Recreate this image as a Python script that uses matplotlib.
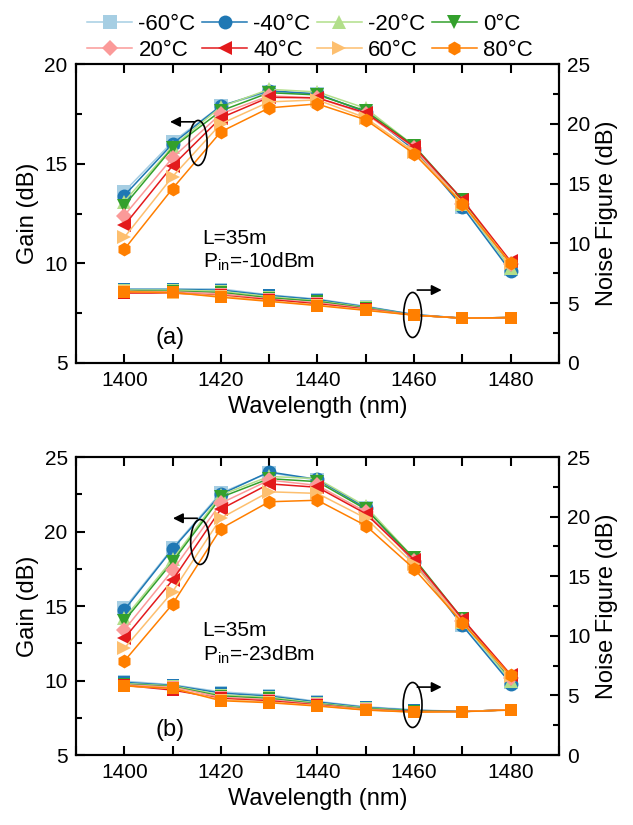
import matplotlib
matplotlib.use("Agg")
import matplotlib.pyplot as plt
from matplotlib.patches import Ellipse
from matplotlib.ticker import MultipleLocator
import numpy as np

plt.rcParams['font.family'] = ['Liberation Sans', 'DejaVu Sans']
plt.rcParams['mathtext.default'] = 'regular'

# data
wavelength = [1400, 1410, 1420, 1430, 1440, 1450, 1460, 1470, 1480]
temps = ["-60°C", "-40°C", "-20°C", "0°C", "20°C", "40°C", "60°C", "80°C"]
colors = ["#a6cee3", "#1f78b4", "#b2df8a", "#33a02c", "#fb9a99", "#e31a1c", "#fdbf6f", "#ff7f00"]
markers = ["s", "o", "^", "v", "D", "<", ">", "h"]

# panel (a): Pin = -10 dBm
gain_a = [
    [13.6, 16.1, 17.9, 18.6, 18.5, 17.6, 15.7, 12.85, 9.7],
    [13.4, 16.0, 17.9, 18.66, 18.5, 17.6, 15.7, 12.85, 9.6],
    [13.1, 15.85, 17.85, 18.73, 18.6, 17.78, 15.9, 13.0, 9.75],
    [12.9, 15.8, 17.65, 18.56, 18.45, 17.65, 15.9, 13.2, 9.9],
    [12.4, 15.3, 17.5, 18.4, 18.3, 17.5, 15.8, 13.0, 9.95],
    [11.9, 14.9, 17.3, 18.33, 18.3, 17.55, 15.85, 13.2, 10.1],
    [11.3, 14.35, 17.0, 18.1, 18.2, 17.3, 15.6, 13.05, 10.0],
    [10.7, 13.75, 16.6, 17.8, 18.0, 17.2, 15.5, 13.0, 10.0],
]
nf_a = [
    [6.2, 6.2, 6.2, 5.7, 5.35, 4.75, 4.05, 3.75, 3.8],
    [6.15, 6.15, 6.1, 5.65, 5.3, 4.7, 4.05, 3.75, 3.8],
    [6.1, 6.1, 6.0, 5.55, 5.2, 4.65, 4.0, 3.75, 3.8],
    [6.05, 6.0, 5.9, 5.45, 5.15, 4.6, 4.0, 3.75, 3.8],
    [6.0, 5.95, 5.8, 5.35, 5.05, 4.55, 4.0, 3.75, 3.8],
    [5.85, 5.85, 5.65, 5.3, 4.95, 4.5, 4.0, 3.75, 3.8],
    [6.0, 5.85, 5.6, 5.2, 4.85, 4.45, 4.0, 3.75, 3.8],
    [5.95, 5.9, 5.5, 5.15, 4.8, 4.4, 4.0, 3.75, 3.8],
]

# panel (b): Pin = -23 dBm
gain_b = [
    [14.85, 18.9, 22.6, 23.95, 23.45, 21.6, 17.95, 13.7, 9.9],
    [14.73, 18.83, 22.5, 24.0, 23.5, 21.6, 17.95, 13.7, 9.8],
    [14.17, 18.13, 22.45, 23.7, 23.55, 21.7, 18.2, 13.9, 10.0],
    [14.0, 17.97, 22.3, 23.55, 23.35, 21.5, 18.2, 14.15, 10.1],
    [13.4, 17.4, 21.9, 23.45, 23.1, 21.33, 18.0, 14.0, 10.2],
    [12.83, 16.74, 21.5, 23.2, 22.97, 21.2, 18.1, 14.15, 10.4],
    [12.16, 15.96, 20.9, 22.67, 22.56, 20.9, 17.8, 13.9, 10.3],
    [11.3, 15.13, 20.2, 22.0, 22.1, 20.4, 17.5, 13.88, 10.35],
]
nf_b = [
    [6.2, 5.9, 5.3, 5.05, 4.5, 4.05, 3.8, 3.65, 3.8],
    [6.1, 5.85, 5.2, 4.95, 4.45, 4.0, 3.75, 3.65, 3.8],
    [6.0, 5.8, 5.05, 4.85, 4.35, 3.95, 3.7, 3.65, 3.8],
    [5.95, 5.75, 4.95, 4.75, 4.3, 3.9, 3.7, 3.65, 3.8],
    [5.9, 5.7, 4.85, 4.65, 4.25, 3.85, 3.65, 3.65, 3.8],
    [5.85, 5.45, 4.75, 4.55, 4.2, 3.8, 3.65, 3.65, 3.8],
    [5.8, 5.6, 4.65, 4.45, 4.15, 3.8, 3.6, 3.65, 3.8],
    [5.8, 5.6, 4.56, 4.39, 4.11, 3.77, 3.6, 3.64, 3.77],
]

panels = [
    {"gain": gain_a, "nf": nf_a, "ylim": (5, 20), "pin": "-10dBm", "tag": "(a)",
     "rect": [0.120, 0.560, 0.763, 0.3624],
     "ell_gain": (1415.3, 16.04, 3.7, 2.26), "arr_gain": (1415.1, 1408.9, 17.1),
     "ell_nf": (1459.7, 7.41, 3.7, 2.26), "arr_nf": (1460.1, 1466.3, 8.66),
     "txt_y": (11.27, 10.07), "tag_y": 6.25},
    {"gain": gain_b, "nf": nf_b, "ylim": (5, 25), "pin": "-23dBm", "tag": "(b)",
     "rect": [0.120, 0.0848, 0.763, 0.3612],
     "ell_gain": (1415.7, 19.3, 3.9, 3.02), "arr_gain": (1415.7, 1409.5, 20.89),
     "ell_nf": (1459.7, 8.36, 3.9, 3.02), "arr_nf": (1460.1, 1466.3, 9.56),
     "txt_y": (13.39, 11.71), "tag_y": 6.68},
]

fig = plt.figure(figsize=(6.33, 8.25), dpi=100)

handles = []
for P in panels:
    ax = fig.add_axes(P["rect"])
    ax2 = ax.twinx()
    ax.set_zorder(ax2.get_zorder() + 1)
    ax.patch.set_visible(False)

    for i in range(len(temps)):
        ax2.plot(wavelength, P["nf"][i], marker="s", color=colors[i], markersize=9,
                 linewidth=1.1, markeredgewidth=0)
    for i in range(len(temps)):
        h, = ax.plot(wavelength, P["gain"][i], marker=markers[i], color=colors[i],
                     markersize=10 if markers[i] != "D" else 8.5, linewidth=1.1,
                     markeredgewidth=0, label=temps[i])
        if P["tag"] == "(a)":
            handles.append(h)

    ax.set_xlim(1390, 1490)
    ax.set_ylim(*P["ylim"])
    ax2.set_ylim(0, 25)
    ax.xaxis.set_major_locator(MultipleLocator(20))
    ax.xaxis.set_minor_locator(MultipleLocator(10))
    ax.yaxis.set_major_locator(MultipleLocator(5))
    ax.yaxis.set_minor_locator(MultipleLocator(2.5))
    ax2.yaxis.set_major_locator(MultipleLocator(5))
    ax2.yaxis.set_minor_locator(MultipleLocator(2.5))
    ax.tick_params(axis="x", which="both", direction="in", top=True, length=6.5, width=1.5)
    ax.tick_params(axis="x", which="major", labelsize=15, pad=6)
    ax.tick_params(axis="y", which="major", direction="in", length=6.5, width=1.5,
                   labelsize=15, pad=6)
    ax.tick_params(axis="y", which="minor", direction="in", length=4, width=1.5)
    ax2.tick_params(axis="y", which="major", direction="in", length=6.5, width=1.5,
                    labelsize=15, pad=6)
    ax2.tick_params(axis="y", which="minor", direction="in", length=4, width=1.5)
    for sp in ax2.spines.values():
        sp.set_linewidth(1.5)
    for sp in ax.spines.values():
        sp.set_linewidth(1.5)

    ax.set_xlabel("Wavelength (nm)", fontsize=17)
    ax.set_ylabel("Gain (dB)", fontsize=17)
    ax2.set_ylabel("Noise Figure (dB)", fontsize=17)

    ax.text(1416.2, P["txt_y"][0], "L=35m", fontsize=15, va="center")
    ax.text(1416.2, P["txt_y"][1], "P$_{in}$=" + P["pin"], fontsize=15, va="center")
    ax.text(1406.4, P["tag_y"], P["tag"], fontsize=17, va="center")

    ex, ey, ew, eh = P["ell_gain"]
    ax.add_patch(Ellipse((ex, ey), ew, eh, fill=False, edgecolor="black", linewidth=1.2, zorder=5))
    x0, x1, yy = P["arr_gain"]
    ax.annotate("", xy=(x1, yy), xytext=(x0, yy),
                arrowprops=dict(arrowstyle="-|>", color="black", lw=1.2, mutation_scale=15))
    ex, ey, ew, eh = P["ell_nf"]
    ax.add_patch(Ellipse((ex, ey), ew, eh, fill=False, edgecolor="black", linewidth=1.2, zorder=5))
    x0, x1, yy = P["arr_nf"]
    ax.annotate("", xy=(x1, yy), xytext=(x0, yy),
                arrowprops=dict(arrowstyle="-|>", color="black", lw=1.2, mutation_scale=15))

# legend fills column by column, reorder so rows read -60..0 and 20..80
order = [0, 4, 1, 5, 2, 6, 3, 7]
fig.legend(handles=[handles[k] for k in order], loc="upper center",
           bbox_to_anchor=(0.49, 0.999), ncol=4, frameon=False, fontsize=16,
           handlelength=2.0, handletextpad=0.3, columnspacing=0.3,
           labelspacing=0.2, borderaxespad=0.2)

fig.savefig("out.png", dpi=100)
